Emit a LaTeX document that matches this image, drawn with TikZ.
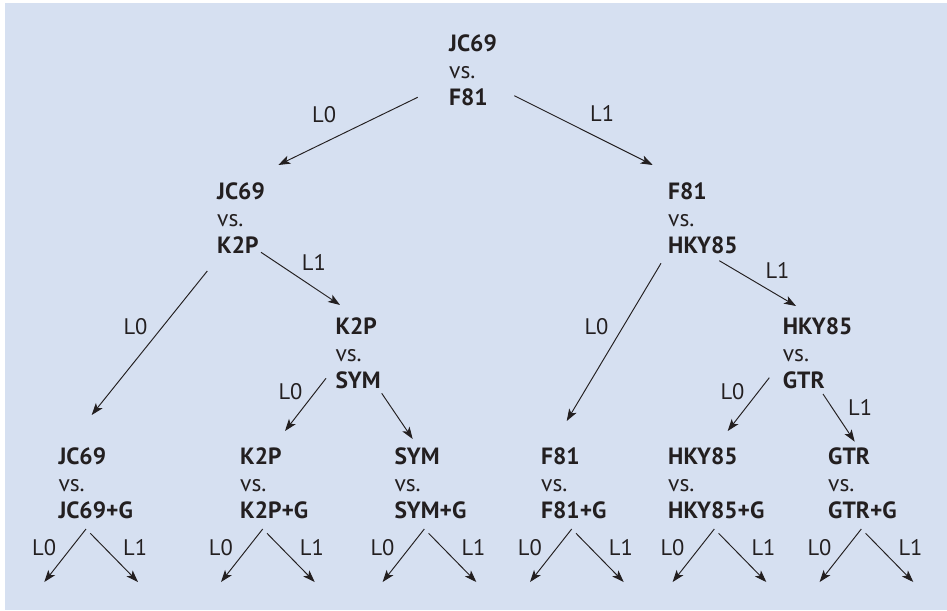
\documentclass[tikz,border=0pt]{standalone}
\usepackage{fontspec}
\setmainfont{PT Sans}
\usetikzlibrary{arrows.meta}
\definecolor{bg}{RGB}{214,224,241}
\definecolor{ink}{RGB}{35,31,32}
\newcommand{\mblock}[2]{\vtop{\baselineskip=27pt\hbox{\bfseries #1}\hbox{vs.}\hbox{\bfseries #2}}}
\begin{document}
\begin{tikzpicture}[x=1pt,y=-1pt,
  model/.style={anchor=base west, inner sep=0pt, text=ink, font=\fontsize{23.5}{27}\selectfont},
  lab/.style={anchor=base west, inner sep=0pt, text=ink, font=\fontsize{22.5}{26}\selectfont},
  arr/.style={draw=ink, line width=0.95pt, -{Stealth[length=12pt,width=8.5pt,inset=3pt]}}]
\useasboundingbox (0,0) rectangle (947,610);
\fill[bg] (5,3) rectangle (947,610);
% model nodes
\node[model] (n0) at (449,52) {\mblock{JC69}{F81}};
\node[model] (n1) at (217,199.5) {\mblock{JC69}{K2P}};
\node[model] (n2) at (668,199.5) {\mblock{F81}{HKY85}};
\node[model] (n3) at (335.3,334.3) {\mblock{K2P}{SYM}};
\node[model] (n4) at (782.7,334.3) {\mblock{HKY85}{GTR}};
\node[model] (n5) at (58.3,464.3) {\mblock{JC69}{JC69+G}};
\node[model] (n6) at (240,464.3) {\mblock{K2P}{K2P+G}};
\node[model] (n7) at (394.3,464.3) {\mblock{SYM}{SYM+G}};
\node[model] (n8) at (541,464.3) {\mblock{F81}{F81+G}};
\node[model] (n9) at (668,464.3) {\mblock{HKY85}{HKY85+G}};
\node[model] (n10) at (828,464.3) {\mblock{GTR}{GTR+G}};
% connectors between models
\draw[arr] ([shift={(-31.3,45.3)}]n0.base west) -- ([shift={(61.3,-34.5)}]n1.base west);
\draw[arr] ([shift={(65.3,43.7)}]n0.base west) -- ([shift={(-15.3,-34.5)}]n2.base west);
\draw[arr] ([shift={(-9.7,71.5)}]n1.base west) -- ([shift={(33.4,-49.3)}]n5.base west);
\draw[arr] ([shift={(44,52.8)}]n1.base west) -- ([shift={(4.7,-29.3)}]n3.base west);
\draw[arr] ([shift={(-9.3,44)}]n3.base west) -- ([shift={(45,-33.3)}]n6.base west);
\draw[arr] ([shift={(46.4,59)}]n3.base west) -- ([shift={(18.4,-25.3)}]n7.base west);
\draw[arr] ([shift={(-7,63.8)}]n2.base west) -- ([shift={(25.7,-43.3)}]n8.base west);
\draw[arr] ([shift={(51.3,61.2)}]n2.base west) -- ([shift={(13.3,-28.3)}]n4.base west);
\draw[arr] ([shift={(-13.4,43.4)}]n4.base west) -- ([shift={(59.7,-33.3)}]n9.base west);
\draw[arr] ([shift={(40.3,59.7)}]n4.base west) -- ([shift={(26.7,-22.6)}]n10.base west);
% branch labels
\node[lab] (b1) at (312,122) {L0};
\node[lab] (b2) at (590,121.7) {L1};
\node[lab] (b3) at (123.3,334.3) {L0};
\node[lab] (b4) at (301.7,270.7) {L1};
\node[lab] (b5) at (278.3,399) {L0};
\node[lab] (b6) at (584.3,334.3) {L0};
\node[lab] (b7) at (765.3,278.3) {L1};
\node[lab] (b8) at (720.3,399) {L0};
\node[lab] (b9) at (848,415.7) {L1};
% leaf branches
\foreach \n/\s in {n5/27.7,n6/22.7,n7/30,n8/30.7,n9/46.3,n10/33.3}{
  \coordinate (\n-l) at ([shift={(\s-41.7,117.7)}]\n.base west);
  \coordinate (\n-r) at ([shift={(\s+52,117.7)}]\n.base west);
  \draw[arr] ([shift={(\s,64.7)}]\n.base west) -- (\n-l);
  \draw[arr] ([shift={(\s+4.3,69)}]\n.base west) -- (\n-r);
  \node[lab] (\n-l0) at ([shift={(\s-54,91.4)}]\n.base west) {L0};
  \node[lab] (\n-l1) at ([shift={(\s+37,91.4)}]\n.base west) {L1};
}
\end{tikzpicture}
\end{document}
